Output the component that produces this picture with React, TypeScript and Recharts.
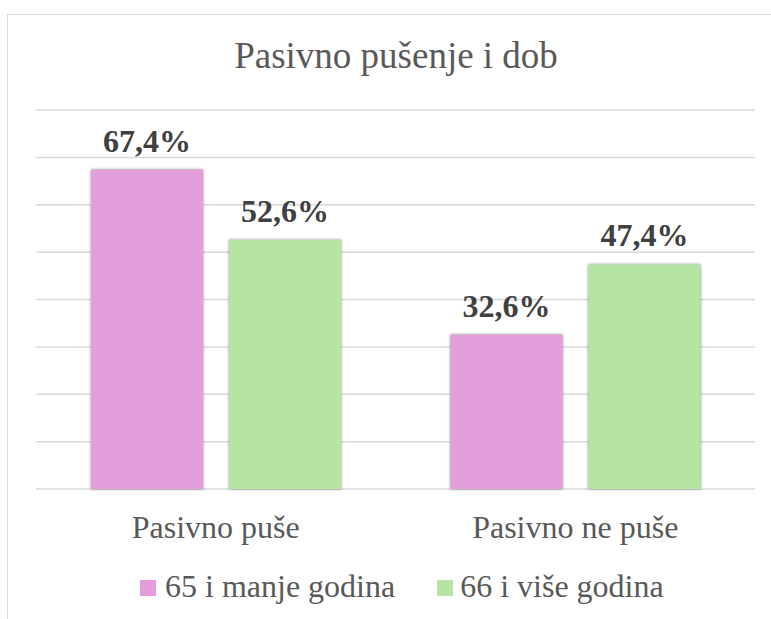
import React from 'react';
import { BarChart, Bar, XAxis, YAxis, CartesianGrid, LabelList } from 'recharts';

const categories = ['Pasivno puše', 'Pasivno ne puše'];
const seriesNames = ['65 i manje godina', '66 i više godina'];
const youngValues = [67.4, 32.6];
const oldValues = [52.6, 47.4];
const yTicks = [0, 10, 20, 30, 40, 50, 60, 70, 80];
const colors = ['#E39EDB', '#B5E4A3'];

const data = categories.map((c, i) => ({ name: c, young: youngValues[i], old: oldValues[i] }));

const FONT = 'Liberation Serif';

const fmt = (v: any) => Number(v).toFixed(1).replace('.', ',') + '%';

const ShadowBar = (props: any) => {
  const { x, y, width, height, fill } = props;
  return (
    <rect
      x={x}
      y={y}
      width={width}
      height={height}
      fill={fill}
      style={{ filter: 'drop-shadow(0px 0px 1.5px rgba(0,0,0,0.45))' }}
    />
  );
};

const CatTick = (props: any) => {
  const { x, y, payload } = props;
  return (
    <text x={x} y={y} dy={41} textAnchor="middle" fill="#595959" fontSize={32} style={{ fontFamily: FONT }}>
      {payload.value}
    </text>
  );
};

export default function App() {
  return (
    <div style={{ position: 'absolute', left: 0, top: 0, width: 771, height: 619, overflow: 'hidden', background: '#fff', fontFamily: FONT }}>
      <div style={{ position: 'absolute', left: 7, top: 14, width: 900, height: 800, border: '1px solid #d9d9d9', boxSizing: 'border-box' }} />
      <div
        style={{
          position: 'absolute',
          left: 0,
          top: 35,
          width: 792,
          textAlign: 'center',
          fontFamily: FONT,
          fontSize: 37,
          lineHeight: '42px',
          color: '#595959',
        }}
      >
        Pasivno pušenje i dob
      </div>
      <div style={{ position: 'absolute', left: 0, top: 0 }}>
        <BarChart
          width={771}
          height={619}
          data={data}
          margin={{ top: 110, right: 16, bottom: 100, left: 36 }}
          barCategoryGap={55}
          barGap={26}
        >
          <CartesianGrid vertical={false} stroke="#d9d9d9" strokeWidth={1.5} />
          <YAxis hide domain={[0, 80]} ticks={yTicks} />
          <XAxis dataKey="name" axisLine={false} tickLine={false} tick={<CatTick />} />
          <Bar dataKey="young" name={seriesNames[0]} fill={colors[0]} isAnimationActive={false} shape={<ShadowBar />}>
            <LabelList
              dataKey="young"
              position="top"
              offset={18}
              formatter={fmt}
              fill="#404040"
              fontSize={32}
              fontWeight="bold"
              style={{ fontFamily: FONT }}
            />
          </Bar>
          <Bar dataKey="old" name={seriesNames[1]} fill={colors[1]} isAnimationActive={false} shape={<ShadowBar />}>
            <LabelList
              dataKey="old"
              position="top"
              offset={18}
              formatter={fmt}
              fill="#404040"
              fontSize={32}
              fontWeight="bold"
              style={{ fontFamily: FONT }}
            />
          </Bar>
        </BarChart>
      </div>
      <div
        style={{
          position: 'absolute',
          left: 140,
          top: 566,
          display: 'flex',
          alignItems: 'center',
          fontFamily: FONT,
          fontSize: 32,
          lineHeight: '40px',
          color: '#595959',
          whiteSpace: 'nowrap',
        }}
      >
        {seriesNames.map((n, i) => (
          <div key={n} style={{ display: 'flex', alignItems: 'center', marginRight: i === 0 ? 42 : 0 }}>
            <span style={{ display: 'inline-block', width: 16, height: 16, background: colors[i], marginRight: i === 0 ? 9 : 7, marginTop: 4 }} />
            <span>{n}</span>
          </div>
        ))}
      </div>
    </div>
  );
}
